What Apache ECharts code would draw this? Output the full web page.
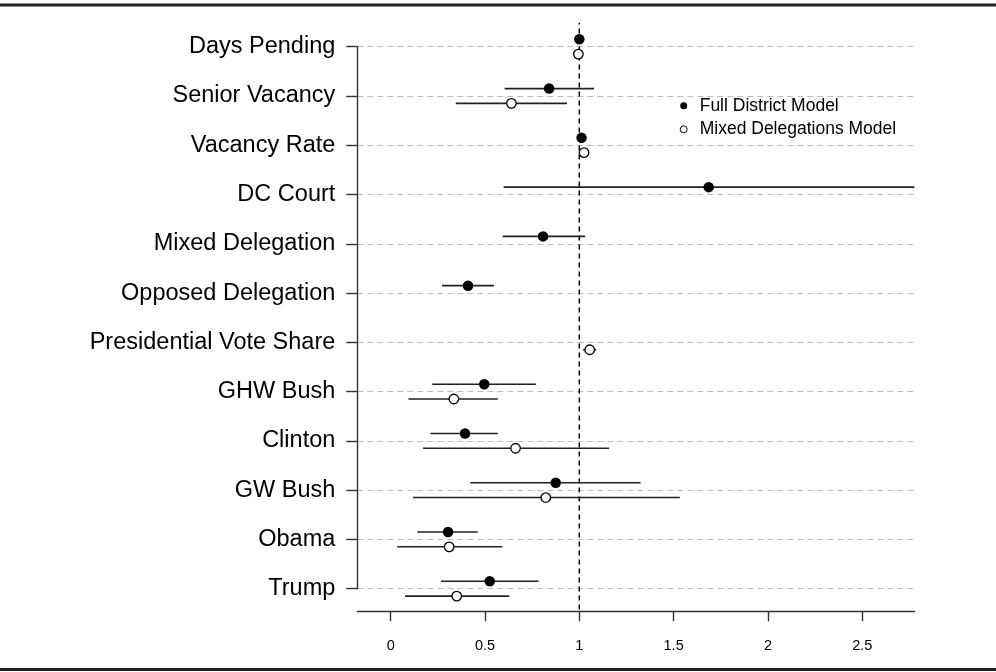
<!DOCTYPE html>
<html>
<head>
<meta charset="utf-8">
<script src="https://cdn.jsdelivr.net/npm/echarts@6/dist/echarts.min.js"></script>
<style>html,body{margin:0;padding:0;background:#fff}#c{width:996px;height:672px}</style>
</head>
<body>
<div id="c"></div>
<script>
const categories = ["Days Pending","Senior Vacancy","Vacancy Rate","DC Court","Mixed Delegation","Opposed Delegation","Presidential Vote Share","GHW Bush","Clinton","GW Bush","Obama","Trump"];
const fullEst  = [1.000, 0.840, 1.012, 1.686, 0.808, 0.410, null, 0.496, 0.394, 0.875, 0.304, 0.525];
const fullLo   = [0.990, 0.604, 1.000, 0.599, 0.594, 0.272, null, 0.220, 0.211, 0.422, 0.141, 0.267];
const fullHi   = [1.010, 1.078, 1.024, 3.300, 1.031, 0.548, null, 0.770, 0.568, 1.325, 0.461, 0.784];
const mixedEst = [0.995, 0.640, 1.025, null, null, null, 1.055, 0.335, 0.662, 0.822, 0.310, 0.350];
const mixedLo  = [0.985, 0.345, 1.015, null, null, null, 1.020, 0.094, 0.171, 0.118, 0.035, 0.076];
const mixedHi  = [1.005, 0.935, 1.035, null, null, null, 1.090, 0.568, 1.158, 1.533, 0.592, 0.629];
const xTicks = [0, 0.5, 1, 1.5, 2, 2.5];
const refValue = 1;

const X_MIN = -0.177, X_MAX = 2.777;
const OFF = 0.15;
const FONT = "'Liberation Sans', Arial, Helvetica, sans-serif";

function pts(est, off) {
  const out = [];
  est.forEach((v, i) => { if (v != null) out.push([v, i + off]); });
  return out;
}
function bars(lo, hi, off) {
  const out = [];
  lo.forEach((v, i) => { if (v != null) out.push([v, hi[i], i + off]); });
  return out;
}
function renderBar(params, api) {
  const lo = api.value(0), hi = Math.min(api.value(1), X_MAX), y = api.value(2);
  const p1 = api.coord([lo, y]), p2 = api.coord([hi, y]);
  return {type: 'line', shape: {x1: p1[0], y1: p1[1], x2: p2[0], y2: p2[1]},
          style: {stroke: '#222', lineWidth: 1.6}};
}

const chart = echarts.init(document.getElementById('c'), null, {renderer: 'canvas'});
chart.setOption({
  animation: false,
  backgroundColor: '#fff',
  textStyle: {fontFamily: FONT},
  graphic: [
    {type: 'rect', shape: {x: 0, y: 3.5, width: 996, height: 3}, style: {fill: '#222'}},
    {type: 'rect', shape: {x: 0, y: 668, width: 996, height: 3}, style: {fill: '#222'}}
  ],
  grid: [
    {left: 357.3, right: 81.5, top: 46.7, bottom: 83.3, containLabel: false},
    {left: 357.3, right: 81.5, top: 22.7, bottom: 62.5, containLabel: false}
  ],
  legend: {
    orient: 'vertical', left: 679.7, top: 96.7, padding: 0,
    itemWidth: 22, itemHeight: 7, itemGap: 5.6,
    textStyle: {fontFamily: FONT, fontSize: 17.5, color: '#000', lineHeight: 18},
    data: [
      {name: 'Full District Model', icon: 'circle', itemStyle: {color: '#000', borderWidth: 0}},
      {name: 'Mixed Delegations Model', icon: 'circle', itemStyle: {color: '#fff', borderColor: '#000', borderWidth: 1}}
    ]
  },
  xAxis: [
    {type: 'value', gridIndex: 0, min: X_MIN, max: X_MAX, offset: 22.5, position: 'bottom',
     axisLine: {show: true, onZero: false, lineStyle: {color: '#333', width: 1.4}},
     axisTick: {show: true, length: 10, customValues: xTicks, lineStyle: {color: '#333', width: 1.4}},
     axisLabel: {customValues: xTicks, fontSize: 14.5, color: '#000', margin: 27, fontFamily: FONT},
     splitLine: {show: false}},
    {type: 'value', gridIndex: 1, min: X_MIN, max: X_MAX, show: false}
  ],
  yAxis: [
    {type: 'value', gridIndex: 0, min: 0, max: 11, interval: 1, inverse: true, position: 'left',
     axisLine: {show: true, onZero: false, lineStyle: {color: '#333', width: 1.4}},
     axisTick: {show: true, length: 11, lineStyle: {color: '#333', width: 1.4}},
     axisLabel: {fontSize: 23.5, color: '#000', margin: 22, fontFamily: FONT,
                 formatter: v => categories[Math.round(v)] || ''},
     splitLine: {show: true, lineStyle: {color: '#bdbdbd', width: 1.2, type: [6, 4]}}},
    {type: 'value', gridIndex: 1, min: 0, max: 1, show: false}
  ],
  series: [
    {type: 'line', xAxisIndex: 1, yAxisIndex: 1, data: [[refValue, 0], [refValue, 1]],
     symbol: 'none', silent: true, z: 1,
     lineStyle: {color: '#000', width: 1.5, type: [5, 4]}},
    {type: 'custom', name: 'fullCI', xAxisIndex: 0, yAxisIndex: 0, renderItem: renderBar,
     data: bars(fullLo, fullHi, -OFF), encode: {x: [0, 1], y: 2}, clip: false, z: 2, silent: true},
    {type: 'custom', name: 'mixedCI', xAxisIndex: 0, yAxisIndex: 0, renderItem: renderBar,
     data: bars(mixedLo, mixedHi, OFF), encode: {x: [0, 1], y: 2}, clip: false, z: 2, silent: true},
    {type: 'scatter', name: 'Full District Model', xAxisIndex: 0, yAxisIndex: 0,
     data: pts(fullEst, -OFF), symbol: 'circle', symbolSize: 10.5, clip: false, z: 3,
     itemStyle: {color: '#000', opacity: 1}},
    {type: 'scatter', name: 'Mixed Delegations Model', xAxisIndex: 0, yAxisIndex: 0,
     data: pts(mixedEst, OFF), symbol: 'circle', symbolSize: 9.5, clip: false, z: 3,
     itemStyle: {color: '#fff', borderColor: '#000', borderWidth: 1.3, opacity: 1}}
  ]
});
</script>
</body>
</html>
